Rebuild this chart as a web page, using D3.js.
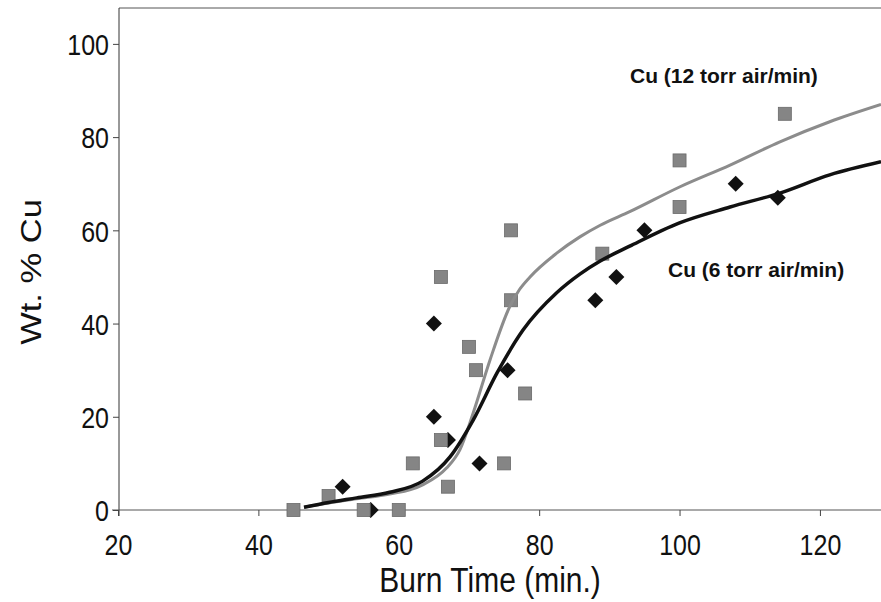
<!DOCTYPE html>
<html>
<head>
<meta charset="utf-8">
<script src="https://cdnjs.cloudflare.com/ajax/libs/d3/7.8.5/d3.min.js"></script>
<style>
  body { margin: 0; background: #fff; }
  text { font-family: Arial, "Liberation Sans", sans-serif; }
</style>
</head>
<body>
<div id="chart"></div>
<script>
// measured points, 12 torr air/min (grey squares)
var sqX = [45, 50, 55, 60, 62, 66, 66, 67, 70, 71, 75, 76, 76, 78, 89, 100, 100, 115];
var sqY = [0, 3, 0, 0, 10, 15, 50, 5, 35, 30, 10, 45, 60, 25, 55, 75, 65, 85];

// measured points, 6 torr air/min (black diamonds)
var dmX = [52, 56, 65, 65, 67, 71.5, 75.5, 88, 91, 95, 108, 114];
var dmY = [5, 0, 40, 20, 15, 10, 30, 45, 50, 60, 70, 67];

// fitted curves
var fit12X = [46.5, 50, 54, 58.7, 63.4, 66.8, 68.7, 70.6, 73, 75.8, 77.2, 78.7, 82.5, 85.8, 88.7, 92.9, 100, 107.2, 114.3, 121.4, 128.7];
var fit12Y = [0.6, 1.5, 2.4, 3.4, 5.4, 9, 12.9, 20.8, 32.2, 43.6, 47.3, 50, 55.1, 58.6, 61.1, 64, 69.3, 74, 79, 83.3, 87];
var fit6X = [46.5, 50, 54, 58.7, 63.4, 67.3, 70.6, 74, 77.7, 82.5, 85.8, 88.7, 92.9, 100, 107.2, 114.3, 121.4, 128.7];
var fit6Y = [0.6, 1.6, 2.6, 3.8, 6.2, 11.4, 19.3, 29.4, 38.6, 46.6, 50.6, 53.4, 56.6, 61.6, 65, 68, 71.9, 74.7];

var xTicks = [20, 40, 60, 80, 100, 120];
var yTicks = [0, 20, 40, 60, 80, 100];

var width = 881, height = 602;

var x = d3.scaleLinear().domain([20, 128.7]).range([118, 881]);
var y = d3.scaleLinear().domain([0, 107.7]).range([510, 8]);

var svg = d3.select("#chart").append("svg")
    .attr("width", width)
    .attr("height", height);

// frame
svg.append("line").attr("x1", 119).attr("x2", 881).attr("y1", 8).attr("y2", 8)
    .attr("stroke", "#555").attr("stroke-width", 1);
svg.append("line").attr("x1", 119).attr("x2", 119).attr("y1", 8).attr("y2", 516)
    .attr("stroke", "#333").attr("stroke-width", 1);
svg.append("line").attr("x1", 112).attr("x2", 881).attr("y1", 510).attr("y2", 510)
    .attr("stroke", "#555").attr("stroke-width", 1);

// y axis
var yAxis = d3.axisLeft(y).tickValues(yTicks).tickSize(6).tickPadding(4);
var gy = svg.append("g").attr("transform", "translate(119,0)").call(yAxis);
gy.select(".domain").remove();
gy.selectAll("line").attr("stroke", "#444");
gy.selectAll("text")
    .attr("font-size", 25)
    .attr("fill", "#111")
    .attr("transform", "scale(1,1.2)")
    .attr("dy", "0.36em");

// x axis
var xAxis = d3.axisBottom(x).tickValues(xTicks).tickSize(6).tickPadding(10);
var gx = svg.append("g").attr("transform", "translate(0,510)").call(xAxis);
gx.select(".domain").remove();
gx.selectAll("line").attr("stroke", "#444");
gx.selectAll("text")
    .attr("font-size", 25)
    .attr("fill", "#111")
    .attr("transform", "scale(1,1.15)")
    .attr("y", 21)
    .attr("dy", "0.71em");

// axis titles
svg.append("text")
    .attr("transform", "translate(490,592) scale(1,1.15)")
    .attr("text-anchor", "middle")
    .attr("font-size", 30)
    .attr("fill", "#111")
    .text("Burn Time (min.)");

svg.append("text")
    .attr("transform", "translate(41,272) rotate(-90) scale(1.15,1)")
    .attr("text-anchor", "middle")
    .attr("font-size", 30)
    .attr("fill", "#111")
    .text("Wt. % Cu");

// markers
var diamonds = dmX.map(function (d, i) { return {x: d, y: dmY[i]}; });
var squares = sqX.map(function (d, i) { return {x: d, y: sqY[i]}; });

svg.selectAll(".dm").data(diamonds).enter().append("path")
    .attr("class", "dm")
    .attr("d", "M0,-8L8,0L0,8L-8,0Z")
    .attr("transform", function (d) { return "translate(" + x(d.x) + "," + y(d.y) + ")"; })
    .attr("fill", "#111");

svg.selectAll(".sq").data(squares).enter().append("rect")
    .attr("class", "sq")
    .attr("x", function (d) { return x(d.x) - 6.5; })
    .attr("y", function (d) { return y(d.y) - 6.5; })
    .attr("width", 13)
    .attr("height", 13)
    .attr("fill", "#858585")
    .attr("stroke", "#6a6a6a")
    .attr("stroke-width", 0.8);

// fitted curves
var line = d3.line()
    .x(function (d) { return x(d[0]); })
    .y(function (d) { return y(d[1]); })
    .curve(d3.curveMonotoneX);

svg.append("path")
    .datum(fit12X.map(function (d, i) { return [d, fit12Y[i]]; }))
    .attr("d", line)
    .attr("fill", "none")
    .attr("stroke", "#8c8c8c")
    .attr("stroke-width", 3);

svg.append("path")
    .datum(fit6X.map(function (d, i) { return [d, fit6Y[i]]; }))
    .attr("d", line)
    .attr("fill", "none")
    .attr("stroke", "#111")
    .attr("stroke-width", 3.5);

// series labels
svg.append("text")
    .attr("x", 630).attr("y", 83)
    .attr("font-size", 21)
    .attr("font-weight", "bold")
    .attr("fill", "#111")
    .text("Cu (12 torr air/min)");

svg.append("text")
    .attr("x", 668).attr("y", 277)
    .attr("font-size", 21)
    .attr("font-weight", "bold")
    .attr("fill", "#111")
    .text("Cu (6 torr air/min)");
</script>
</body>
</html>
